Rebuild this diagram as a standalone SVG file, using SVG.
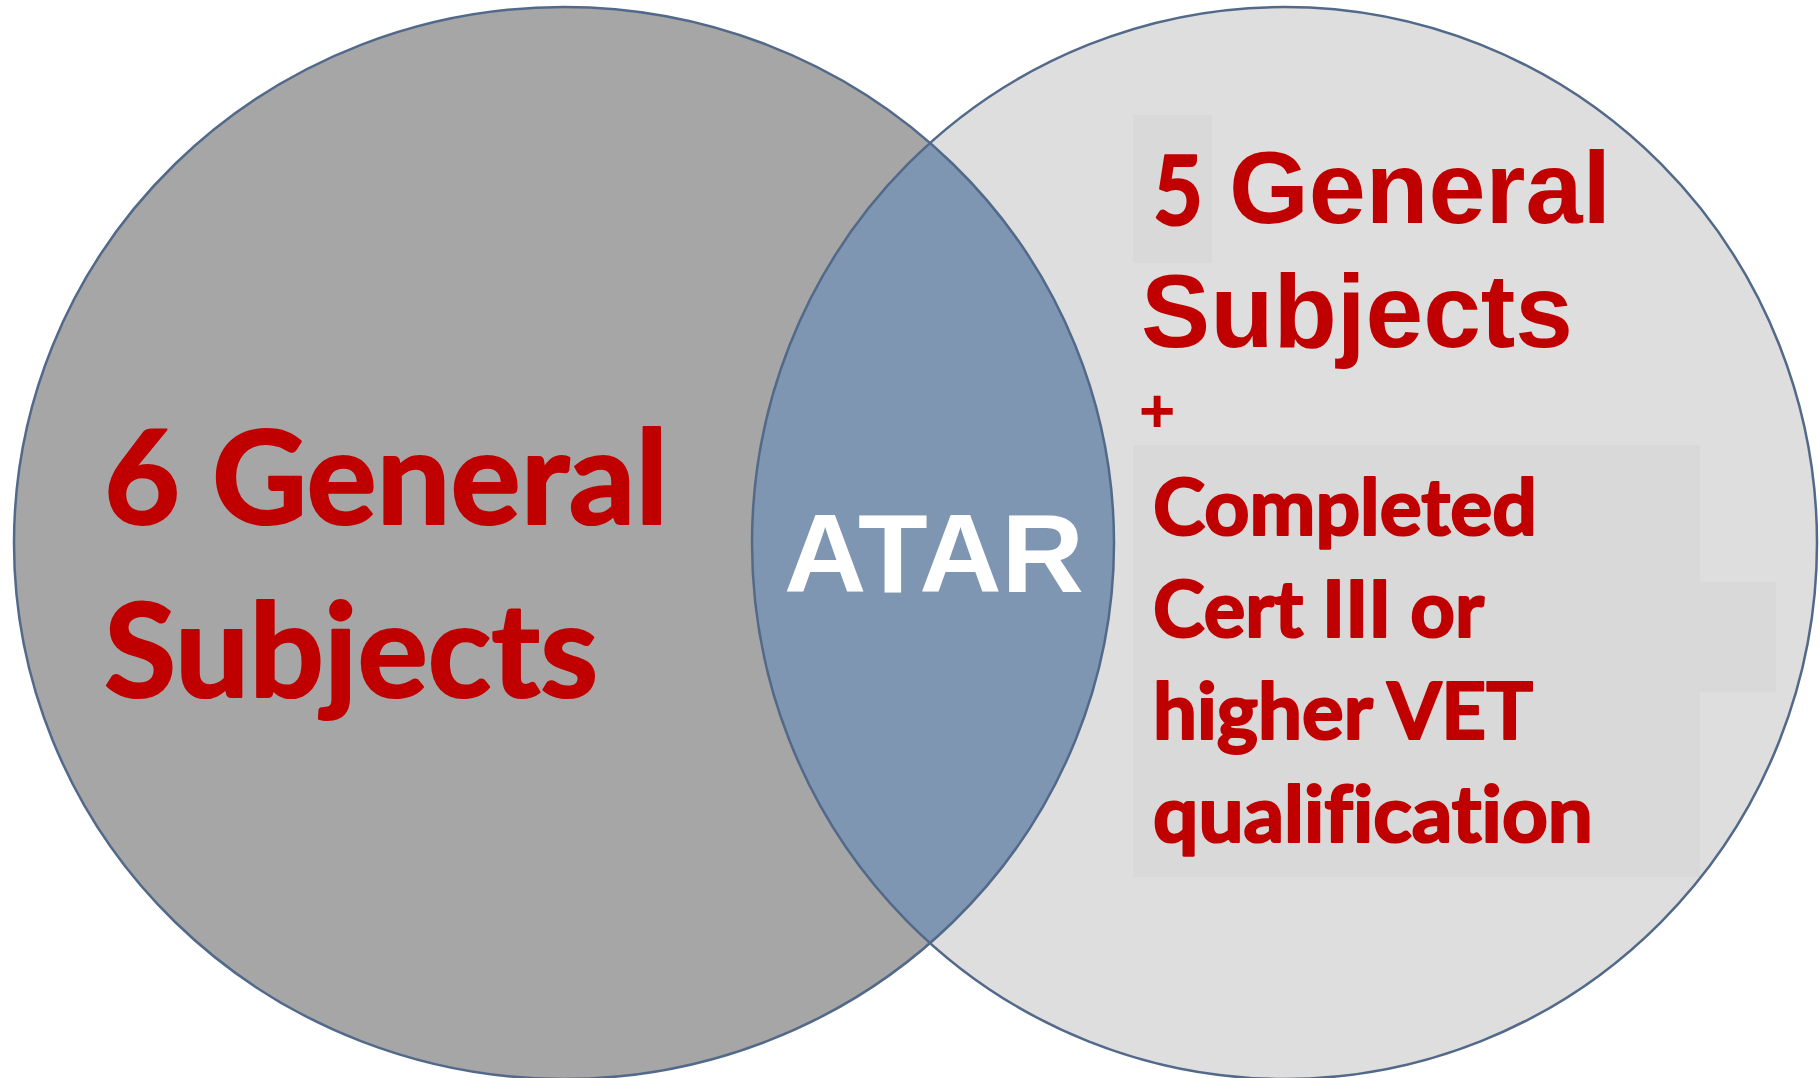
<svg xmlns="http://www.w3.org/2000/svg" width="1820" height="1078" viewBox="0 0 1820 1078">
<style>
.cal{font-family:Lato,"Open Sans","Liberation Sans",sans-serif;font-weight:bold;fill:#c00000;stroke:#c00000;stroke-width:2.2;stroke-linejoin:round;font-variant-ligatures:none;font-feature-settings:"liga" 0,"clig" 0}
.ari{font-family:"Liberation Sans",Arial,sans-serif;font-weight:bold;fill:#c00000}
.edge{fill:none;stroke:#52698a;stroke-width:2.5}
</style>
<defs>
<clipPath id="clipLeft"><ellipse cx="564" cy="543" rx="550" ry="536"/></clipPath>
</defs>
<rect x="0" y="0" width="1820" height="1078" fill="#ffffff"/>
<g id="left-set">
<ellipse cx="564" cy="543" rx="550" ry="536" fill="#a6a6a6"/>
</g>
<g id="right-set">
<ellipse cx="1284.5" cy="543" rx="532.5" ry="536" fill="#dedede"/>
<rect x="1133" y="115" width="79" height="148" fill="#d9d9d9"/>
<rect x="1133" y="445" width="567" height="432" fill="#d9d9d9"/>
<rect x="1700" y="582" width="76" height="110" fill="#d9d9d9"/>
</g>
<g id="atar-lens">
<ellipse cx="1284.5" cy="543" rx="532.5" ry="536" fill="#7f96b2" clip-path="url(#clipLeft)"/>
</g>
<g id="connectors">
<ellipse class="edge" cx="564" cy="543" rx="550" ry="536"/>
<ellipse class="edge" cx="1284.5" cy="543" rx="532.5" ry="536"/>
</g>
<g id="left-label">
<text class="cal" x="104" y="524" font-size="130" textLength="564" lengthAdjust="spacingAndGlyphs">6 General</text>
<text class="cal" x="104" y="697" font-size="130" textLength="494" lengthAdjust="spacingAndGlyphs">Subjects</text>
</g>
<g id="atar-label">
<text x="784" y="592" font-family="Liberation Sans,Arial,sans-serif" font-weight="bold" font-size="112" fill="#ffffff" textLength="300" lengthAdjust="spacingAndGlyphs">ATAR</text>
</g>
<g id="right-label">
<text class="cal" x="1153" y="225" font-size="96" textLength="50" lengthAdjust="spacingAndGlyphs">5</text>
<text class="ari" x="1229" y="223" font-size="102" textLength="382" lengthAdjust="spacingAndGlyphs">General</text>
<text class="ari" x="1141" y="347" font-size="104" textLength="432" lengthAdjust="spacingAndGlyphs">Subjects</text>
<text class="ari" x="1139" y="432" font-size="62">+</text>
<text class="cal" x="1153" y="535" font-size="78" textLength="384" lengthAdjust="spacingAndGlyphs">Completed</text>
<text class="cal" x="1153" y="637" font-size="78" textLength="331" lengthAdjust="spacingAndGlyphs">Cert III or</text>
<text class="cal" x="1153" y="739" font-size="78" textLength="380" lengthAdjust="spacingAndGlyphs">higher VET</text>
<text class="cal" x="1153" y="842" font-size="78" textLength="440" lengthAdjust="spacingAndGlyphs">qualification</text>
</g>
</svg>
